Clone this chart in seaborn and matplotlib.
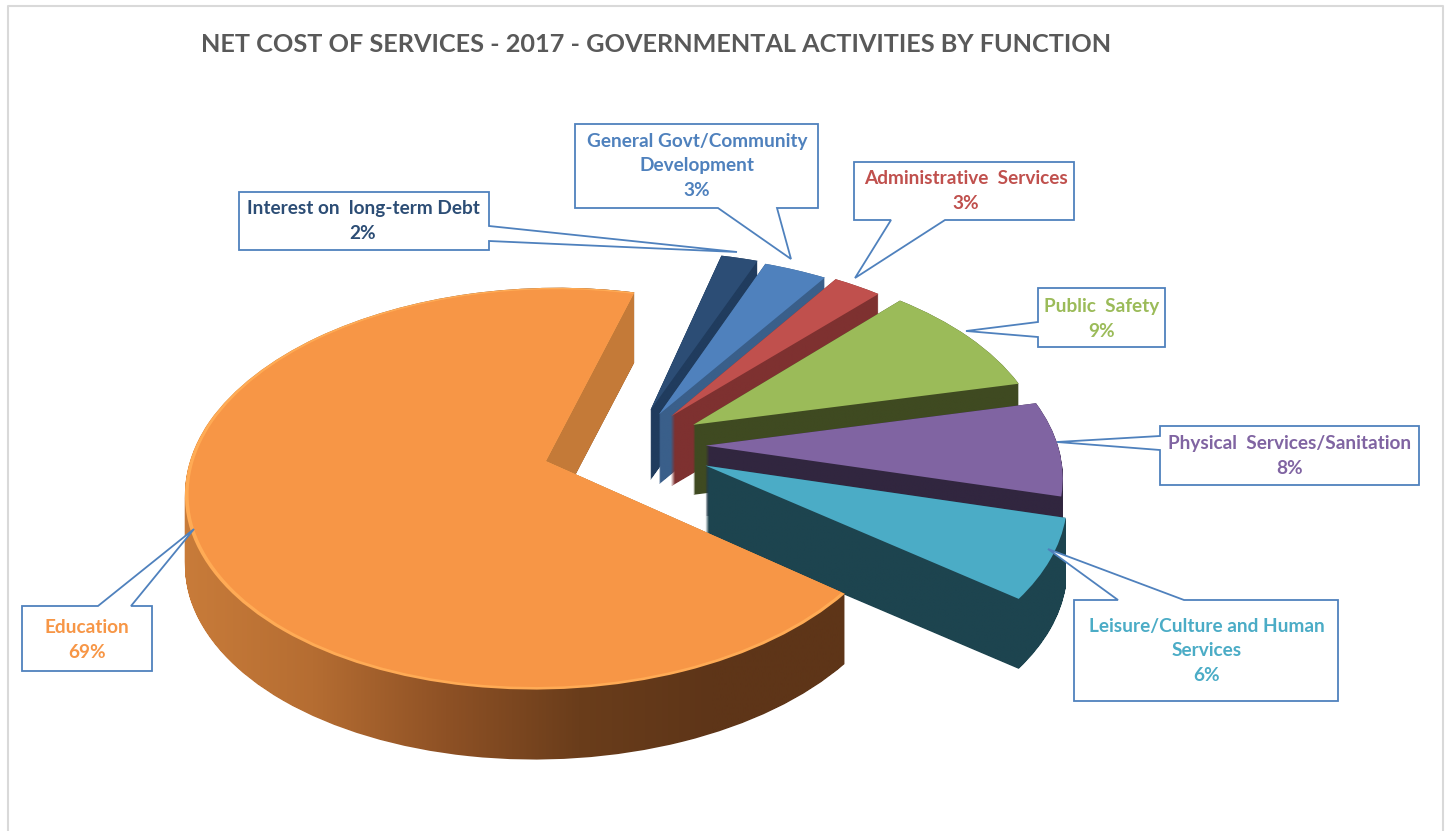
import numpy as np
import matplotlib
matplotlib.use("Agg")
import matplotlib.pyplot as plt
import matplotlib.transforms as mtransforms
from matplotlib.patches import Polygon
from matplotlib.path import Path
import seaborn as sns

# Chart data (shares, labels show them rounded)
categories = ["Education", "Leisure/Culture and Human\nServices", "Physical  Services/Sanitation",
              "Public  Safety", "Administrative  Services", "General Govt/Community\nDevelopment",
              "Interest on  long-term Debt"]
values = [68.6, 6.4, 7.6, 9.4, 2.6, 3.4, 2.0]
title = "NET COST OF SERVICES - 2017 - GOVERNMENTAL ACTIVITIES BY FUNCTION"

# Colours
top_colors = ["#F79646", "#4BACC6", "#8064A2", "#9BBB59", "#C0504D", "#4F81BD", "#2C4D75"]
side_colors = [["#C97C3A", "#B56D32", "#8E5125", "#6A3D1B", "#5E3518", "#5E3518"],
               ["#1D444F"], ["#31263F"], ["#3F4A21"], ["#7E3130"], ["#3A5F8A"], ["#203C5E"]]
label_colors = ["#F79646", "#4BACC6", "#8064A2", "#9BBB59", "#C0504D", "#4F81BD", "#2C4D75"]
cut_color = "#C47A38"
edge_blue = "#4F81BD"

# Pie layout, in pixels of the picture
explode = [0.25, 0.235, 0.215, 0.21, 0.19, 0.18, 0.19]
start_angle = 75.5
pie_x, pie_y, pie_r = 630, 445, 352
squash, persp, depth = 0.558, 0.14, 70

# Callouts: box (left, top, right, bottom), pointer base, pointer tip, text centre
callouts = [
    ((22, 606, 152, 671), "top", (98, 131), (194, 529), (87, 640)),
    ((1074, 600, 1338, 701), "top", (1118, 1184), (1048, 549), (1207, 651)),
    ((1160, 426, 1419, 485), "left", (436, 450), (1057, 442), (1290, 456)),
    ((1038, 288, 1165, 347), "left", (322, 337), (966, 331), (1102, 319)),
    ((854, 162, 1074, 220), "bottom", (891, 945), (855, 278), (966, 191)),
    ((575, 124, 818, 208), "bottom", (718, 777), (791, 259), (697, 166)),
    ((239, 192, 489, 250), "right", (226, 241), (737, 252), (363, 221)),
]

sns.set_theme(style="white")
plt.rcParams["font.family"] = ["Lato", "DejaVu Sans"]


# Tilted disc with a bit of perspective, maps pie units to picture pixels
class Tilt(mtransforms.Transform):
    input_dims = 2
    output_dims = 2

    def __init__(self, drop=0):
        super().__init__()
        self.drop = drop

    def transform_non_affine(self, pts):
        pts = np.asarray(pts, dtype=float)
        near = 1 - persp * pts[:, 1]
        x = pie_x + pts[:, 0] * pie_r * near
        y = pie_y - pts[:, 1] * pie_r * squash * near + self.drop
        return np.column_stack([x, y])


def callout_points(box, side, base, tip):
    l, t, r, b = box
    if side == "top":
        return [(l, t), (base[0], t), tip, (base[1], t), (r, t), (r, b), (l, b)]
    if side == "bottom":
        return [(l, t), (r, t), (r, b), (base[1], b), tip, (base[0], b), (l, b)]
    if side == "left":
        return [(l, t), (r, t), (r, b), (l, b), (l, base[1]), tip, (l, base[0])]
    return [(l, t), (r, t), (r, base[0]), tip, (r, base[1]), (r, b), (l, b)]


fig = plt.figure(figsize=(14.5, 8.31), dpi=100, facecolor="white")
ax = fig.add_axes([0, 0, 1, 1])

flat = {"linewidth": 0}
rim, _ = ax.pie(values, explode=explode, startangle=start_angle, radius=1.0,
                colors=["#FFAB55"] * 7, wedgeprops=flat)
tops, _ = ax.pie(values, explode=explode, startangle=start_angle, radius=0.99,
                 colors=top_colors, wedgeprops=flat)

# Back to front so nearer slices cover the ones behind them
for rank, i in enumerate([6, 5, 4, 3, 2, 1, 0]):
    z = 10 + rank * 4
    path = rim[i].get_path()
    layers = [Tilt(d).transform_path(path) for d in np.arange(0, depth + 1, 1.0)]
    sweep = Path.make_compound_path(*layers)
    x0, y0 = sweep.vertices.min(axis=0)
    x1, y1 = sweep.vertices.max(axis=0)

    stops = side_colors[i] if len(side_colors[i]) > 1 else side_colors[i] * 2
    strip = np.array(sns.blend_palette(stops, n_colors=256))[:, :3][np.newaxis, :, :]
    img = ax.imshow(strip, extent=(x0, x1, y1, y0), aspect="auto", zorder=z, interpolation="bilinear")
    img.set_clip_path(sweep, ax.transData)

    if i == 0:
        # the cut face of the big slice catches more light than its outer wall
        cut = np.array(sns.blend_palette([cut_color, cut_color], n_colors=2))[:, :3][np.newaxis, :, :]
        face = ax.imshow(cut, extent=(540, 645, 482, 285), aspect="auto", zorder=z + 0.5)
        face.set_clip_path(sweep, ax.transData)

    rim[i].set_transform(Tilt() + ax.transData)
    rim[i].set_zorder(z + 1)
    rim[i].set_visible(i == 0)
    tops[i].set_transform(Tilt() + ax.transData)
    tops[i].set_zorder(z + 2)
    if i != 0:
        tops[i].set_radius(1.0)

# Chart border and title
ax.plot([8, 8, 1443, 1443], [831, 6, 6, 831], color="#D9D9D9", lw=1.5, zorder=1)
ax.text(656, 45, title, fontsize=18.2, fontweight="bold", color="#595959", ha="center", va="center", zorder=60)

# Callouts with category name and percentage
for name, val, col, (box, side, base, tip, centre) in zip(categories, values, label_colors, callouts):
    ax.add_patch(Polygon(callout_points(box, side, base, tip), closed=True, facecolor="white",
                         edgecolor=edge_blue, lw=1.3, zorder=50))
    ax.text(centre[0], centre[1], f"{name}\n{round(val)}%", color=col, fontsize=13.7, fontweight="bold",
            ha="center", va="center", linespacing=1.55, zorder=55)

ax.set_aspect("auto")
ax.set_xlim(0, 1450)
ax.set_ylim(831, 0)
ax.axis("off")

fig.savefig("out.png", dpi=100)
